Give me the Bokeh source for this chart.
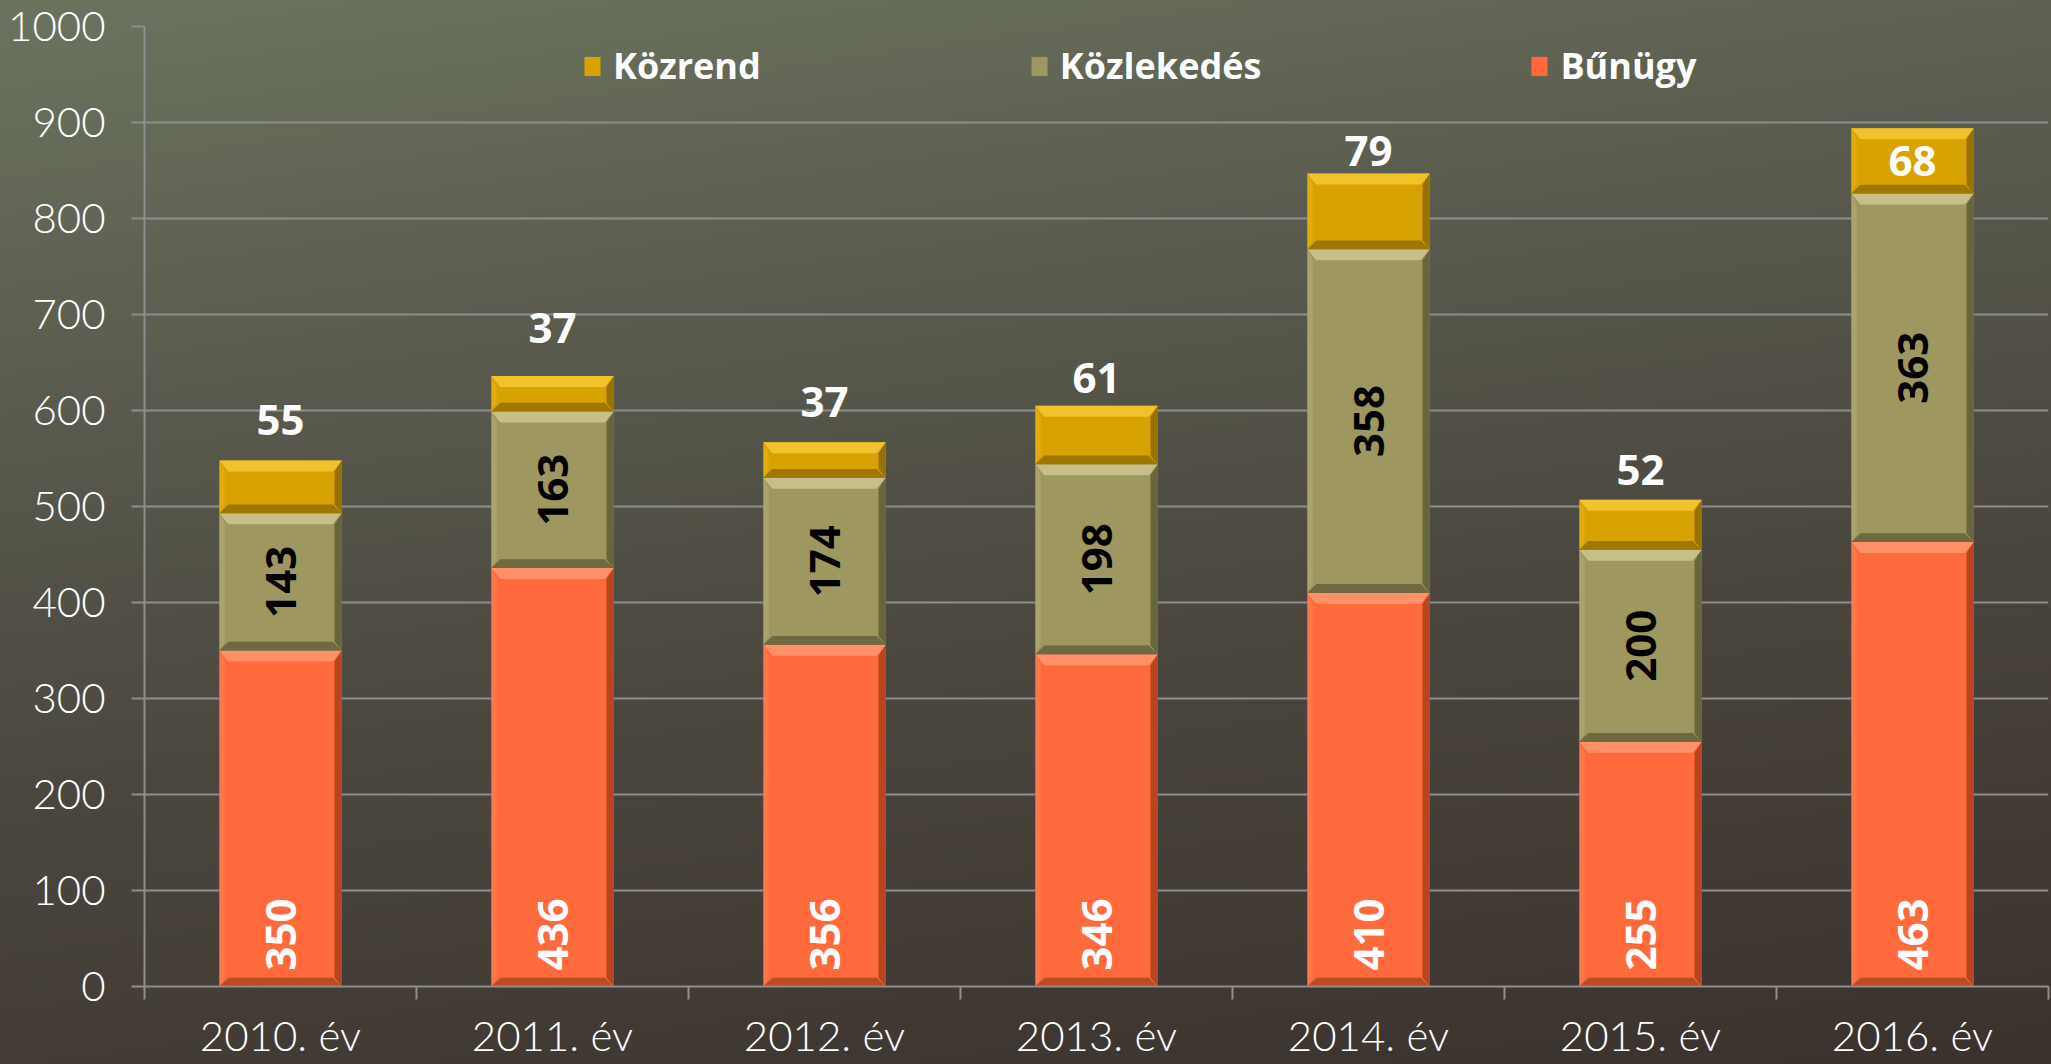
import numpy as np
from bokeh.plotting import figure
from bokeh.models import ColumnDataSource, FixedTicker, Range1d, Legend, LegendItem
from bokeh.embed import file_html
from bokeh.resources import INLINE
from bokeh.core.properties import value

# ---------------- data ----------------
years = ["2010. év", "2011. év", "2012. év", "2013. év", "2014. év", "2015. év", "2016. év"]
bunugy = [350, 436, 356, 346, 410, 255, 463]
kozlekedes = [143, 163, 174, 198, 358, 200, 363]
kozrend = [55, 37, 37, 61, 79, 52, 68]
series_names = ["Bűnügy", "Közlekedés", "Közrend"]
y_ticks = [0, 100, 200, 300, 400, 500, 600, 700, 800, 900, 1000]

# ---------------- style ----------------
colors = ["#ff6a3d", "#9e9760", "#d8a300"]
light = ["#ff9a72", "#cfc994", "#f7c93a"]
dark = ["#a8401c", "#5e5a36", "#8c6a00"]
kozrend_label_dy = [40, 48, 40, 28, 22, 30, None]   # px above bar top; None -> inside
GRID = "#8e8e8e"
AXIS_FONT = "Lato Light, Lato, sans-serif"
BOLD_FONT = "Open Sans"

W, H = 2051, 1064
LEFT, TOP, BOTTOM, RIGHT = 144, 26, 78, 3
frame_w = W - LEFT - RIGHT
frame_h = H - TOP - BOTTOM
n = len(years)
ux = n / frame_w          # data units per px (x)
uy = 1000.0 / frame_h     # data units per px (y)
bar_w = 0.45

p = figure(width=W, height=H, x_range=Range1d(0, n), y_range=Range1d(0, 1000),
           output_backend="svg", toolbar_location=None,
           min_border_left=LEFT, min_border_top=TOP, min_border_bottom=BOTTOM,
           min_border_right=RIGHT,
           styles={"background": "linear-gradient(172deg, #6b735f 0%, #5a5b4e 30%, #4a463e 60%, #3a312c 100%)"})
p.background_fill_color = None
p.border_fill_color = None
p.outline_line_color = None

centers = np.arange(n) + 0.5
series = [bunugy, kozlekedes, kozrend]
acc = np.zeros(n)
renderers = []
for i, vals in enumerate(series):
    v = np.array(vals, dtype=float)
    src = ColumnDataSource(dict(x=centers, bottom=acc.copy(), top=acc + v))
    r = p.vbar(x="x", bottom="bottom", top="top", width=bar_w, source=src,
               fill_color=colors[i], line_color=None)
    renderers.append(r)

    # bevel facets
    bx, by = 9 * ux, 11 * uy
    xs_t, ys_t, xs_b, ys_b, xs_r, ys_r, xs_l, ys_l = [], [], [], [], [], [], [], []
    for c, b0, t0 in zip(centers, acc, acc + v):
        l, rr = c - bar_w / 2, c + bar_w / 2
        xs_t.append([l, rr, rr - bx, l + bx]); ys_t.append([t0, t0, t0 - by, t0 - by])
        xs_b.append([l, rr, rr - bx, l + bx]); ys_b.append([b0, b0, b0 + by * 0.8, b0 + by * 0.8])
        xs_r.append([rr, rr, rr - bx * 0.8, rr - bx * 0.8]); ys_r.append([b0, t0, t0 - by, b0 + by * 0.8])
        xs_l.append([l, l, l + bx * 0.6, l + bx * 0.6]); ys_l.append([b0, t0, t0 - by, b0 + by * 0.8])
    p.patches(xs_l, ys_l, fill_color=light[i], fill_alpha=0.25, line_color=None)
    p.patches(xs_r, ys_r, fill_color=dark[i], fill_alpha=0.85, line_color=None)
    p.patches(xs_b, ys_b, fill_color=dark[i], fill_alpha=0.75, line_color=None)
    p.patches(xs_t, ys_t, fill_color=light[i], fill_alpha=0.8, line_color=None)
    acc = acc + v

# ---------------- labels ----------------
b_src = ColumnDataSource(dict(x=centers, y=np.zeros(n), t=[str(v) for v in bunugy]))
p.text(x="x", y="y", text="t", source=b_src, angle=np.pi / 2, text_align="left",
       text_baseline="middle", y_offset=-16, text_color="white",
       text_font=value(BOLD_FONT), text_font_style="bold", text_font_size="42px")

k_src = ColumnDataSource(dict(x=centers, y=np.array(bunugy) + np.array(kozlekedes) / 2,
                              t=[str(v) for v in kozlekedes]))
p.text(x="x", y="y", text="t", source=k_src, angle=np.pi / 2, text_align="center",
       text_baseline="middle", text_color="black",
       text_font=value(BOLD_FONT), text_font_style="bold", text_font_size="42px")

tops = np.array(bunugy) + np.array(kozlekedes) + np.array(kozrend)
zy, zoff = [], []
for i in range(n):
    if kozrend_label_dy[i] is None:
        zy.append(tops[i] - kozrend[i] / 2); zoff.append(0)
    else:
        zy.append(tops[i]); zoff.append(-kozrend_label_dy[i])
z_src = ColumnDataSource(dict(x=centers, y=zy, off=zoff, t=[str(v) for v in kozrend]))
p.text(x="x", y="y", text="t", source=z_src, y_offset="off", text_align="center",
       text_baseline="middle", text_color="white",
       text_font=value(BOLD_FONT), text_font_style="bold", text_font_size="42px")

# ---------------- axes / grid ----------------
p.ygrid.ticker = FixedTicker(ticks=y_ticks)
p.ygrid.grid_line_color = GRID
p.ygrid.grid_line_width = 2
p.xgrid.grid_line_color = None

p.yaxis.ticker = FixedTicker(ticks=y_ticks)
p.yaxis.axis_line_color = GRID
p.yaxis.axis_line_width = 2
p.yaxis.major_tick_line_color = GRID
p.yaxis.major_tick_line_width = 2
p.yaxis.major_tick_out = 13
p.yaxis.major_tick_in = 0
p.yaxis.minor_tick_line_color = None
p.yaxis.major_label_text_color = "white"
p.yaxis.major_label_text_font = AXIS_FONT
p.yaxis.major_label_text_font_size = "42px"
p.yaxis.major_label_standoff = 26

p.xaxis.ticker = FixedTicker(ticks=list(centers), minor_ticks=list(range(n + 1)))
p.xaxis.major_label_overrides = {float(c): y for c, y in zip(centers, years)}
p.xaxis.axis_line_color = GRID
p.xaxis.axis_line_width = 2
p.xaxis.major_tick_line_color = None
p.xaxis.major_tick_out = 0
p.xaxis.major_tick_in = 0
p.xaxis.minor_tick_line_color = GRID
p.xaxis.minor_tick_line_width = 2
p.xaxis.minor_tick_out = 13
p.xaxis.minor_tick_in = 0
p.xaxis.major_label_text_color = "white"
p.xaxis.major_label_text_font = AXIS_FONT
p.xaxis.major_label_text_font_size = "42px"
p.xaxis.major_label_standoff = 10

# ---------------- legend ----------------
legend = Legend(items=[LegendItem(label=series_names[2], renderers=[renderers[2]]),
                       LegendItem(label=series_names[1], renderers=[renderers[1]]),
                       LegendItem(label=series_names[0], renderers=[renderers[0]])],
                orientation="horizontal", location=(438, 896))
legend.background_fill_alpha = 0
legend.border_line_color = None
legend.label_text_color = "white"
legend.label_text_font = BOLD_FONT
legend.label_text_font_style = "bold"
legend.label_text_font_size = "36px"
legend.glyph_width = 20
legend.glyph_height = 24
legend.label_standoff = 11
legend.spacing = 268
legend.padding = 0
legend.margin = 0
p.add_layout(legend)

open("out.html", "w").write(file_html(p, INLINE))
